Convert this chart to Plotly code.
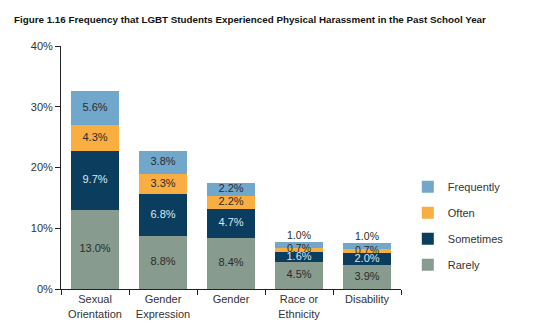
import plotly.graph_objects as go

categories = ["Sexual<br>Orientation", "Gender<br>Expression", "Gender", "Race or<br>Ethnicity", "Disability"]
rarely = [13.0, 8.8, 8.4, 4.5, 3.9]
sometimes = [9.7, 6.8, 4.7, 1.6, 2.0]
often = [4.3, 3.3, 2.2, 0.7, 0.7]
frequently = [5.6, 3.8, 2.2, 1.0, 1.0]
y_ticks = [0, 10, 20, 30, 40]
y_tick_labels = ["0%", "10%", "20%", "30%", "40%"]

FONT = "Liberation Sans, Arial, sans-serif"

series = [
    ("Rarely", rarely, "#879b8e", "#2b2b2b", 4),
    ("Sometimes", sometimes, "#0b3d5e", "#dfe8ef", 3),
    ("Often", often, "#f8ae40", "#2b2b2b", 2),
    ("Frequently", frequently, "#70a7cb", "#2b2b2b", 1),
]

fig = go.Figure()
base = [0.0] * len(categories)
label_traces = []
for name, vals, color, tcolor, rank in series:
    fig.add_trace(go.Bar(
        name=name, x=categories, y=vals,
        marker=dict(color=color, line=dict(width=0)),
        legendgroup=name, legendrank=rank,
        hoverinfo="skip",
    ))
    for i, v in enumerate(vals):
        small = v < 1.5
        if name == "Frequently" and small:
            y = base[i] + v
            pos = "top center"
        else:
            y = base[i] + v / 2
            pos = "middle center"
        label_traces.append(go.Scatter(
            x=[categories[i]], y=[y], mode="text",
            text=[f"{v:.1f}%"], textposition=pos,
            textfont=dict(color=tcolor, size=10.5 if small else 11, family=FONT),
            showlegend=False, hoverinfo="skip", cliponaxis=False,
        ))
    base = [b + v for b, v in zip(base, vals)]

for t in label_traces:
    fig.add_trace(t)

fig.update_layout(
    barmode="stack",
    bargap=0.28,
    width=557, height=331,
    margin=dict(l=61, r=156, t=46, b=42),
    paper_bgcolor="white", plot_bgcolor="white",
    font=dict(family=FONT, size=11, color="#333333"),
    title=dict(text="<b>Figure 1.16 Frequency that LGBT Students Experienced Physical Harassment in the Past School Year</b>",
               x=14/557, xanchor="left", y=1-20/331, yanchor="middle",
               font=dict(family=FONT, size=9.8, color="#111111")),
    legend=dict(traceorder="grouped", x=1.02, xanchor="left", y=0.48, yanchor="top",
                tracegroupgap=7, font=dict(size=11, family=FONT, color="#333333"),
                bgcolor="rgba(0,0,0,0)"),
    showlegend=True,
)
fig.update_yaxes(range=[0, 40], tickvals=y_ticks, ticktext=y_tick_labels,
                 showgrid=False, zeroline=False, showline=True, linecolor="#222222", linewidth=1,
                 ticks="outside", ticklen=5, tickcolor="#222222",
                 tickfont=dict(size=11, family=FONT, color="#333333"))
fig.update_xaxes(showgrid=False, showline=True, linecolor="#222222", linewidth=1,
                 ticks="outside", tickson="boundaries", ticklen=5, tickcolor="#222222",
                 tickfont=dict(size=11, family=FONT, color="#333333"))

fig.write_html("out.html")
